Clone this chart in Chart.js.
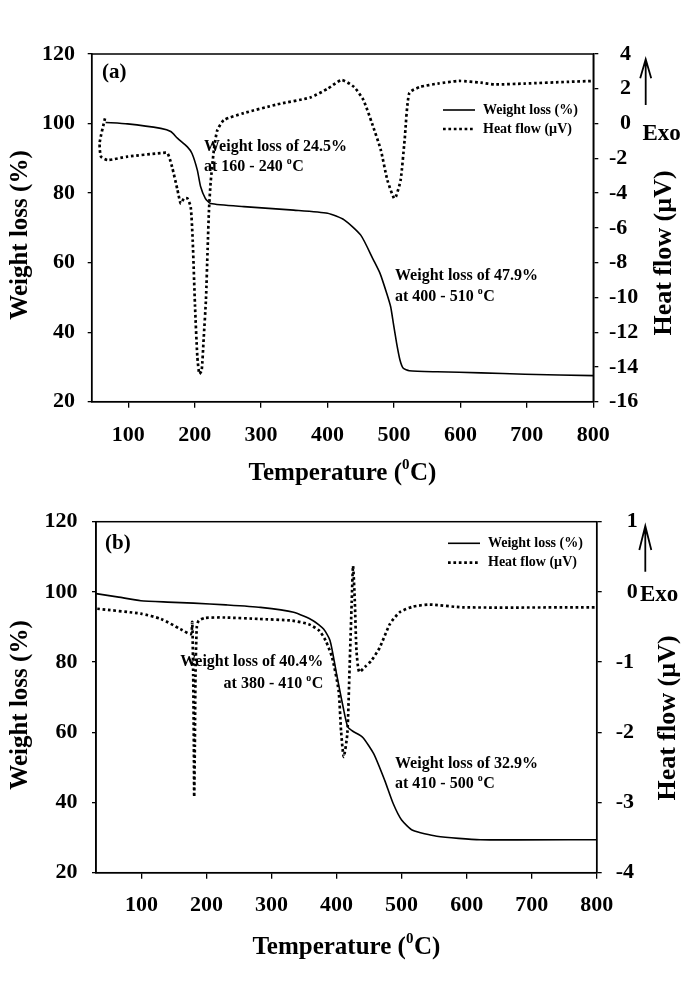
<!DOCTYPE html>
<html>
<head>
<meta charset="utf-8">
<script src="https://cdn.jsdelivr.net/npm/chart.js@4.4.1/dist/chart.umd.min.js"></script>
<style>
  html, body { margin: 0; padding: 0; background: #fff; }
  .panel { width: 685px; height: 491px; }
  canvas { display: block; }
</style>
</head>
<body>
<div class="panel"><canvas id="chartA" width="685" height="491"></canvas></div>
<div class="panel"><canvas id="chartB" width="685" height="491"></canvas></div>
<script>
// tick labels
const xTicks = [100, 200, 300, 400, 500, 600, 700, 800];
const weightTicks = [20, 40, 60, 80, 100, 120];
const heatTicksA = [-16, -14, -12, -10, -8, -6, -4, -2, 0, 2, 4];
const heatTicksB = [-4, -3, -2, -1, 0, 1];

// (a) weight loss
const tempWA = [66, 99, 149, 164, 174, 189, 196, 204, 209, 216, 224, 274, 349, 400, 425, 450, 469, 479, 489, 495, 499, 504, 509, 514, 523, 565, 631, 697, 800];
const wlA = [100.3, 99.9, 98.6, 97.7, 95.8, 93.3, 91.4, 86.6, 81.8, 78.5, 77.0, 76.1, 75.1, 74.2, 72.3, 67.9, 60.8, 56.9, 51.2, 47.3, 42.6, 36.8, 32.0, 29.6, 28.9, 28.6, 28.3, 27.9, 27.5];

// (a) heat flow
const tempHA = [65, 57, 59, 69, 99, 149, 159, 166, 174, 179, 184, 189, 194, 197, 200.5, 204, 207, 210.5, 213.5, 217, 219.5, 221.5, 224, 229, 234, 244, 274, 324, 374, 400, 421, 440, 454, 467, 480, 490, 500, 503, 510, 516, 523, 539, 566, 598, 631, 651, 697, 763, 800];
const hfA = [0.3, -1.1, -1.9, -2.1, -1.9, -1.7, -1.7, -2.5, -3.8, -4.6, -4.3, -4.3, -4.8, -6.7, -10.5, -13.4, -14.4, -14.2, -12.4, -10.1, -7.2, -5.0, -3.4, -1.5, -0.4, 0.2, 0.6, 1.1, 1.5, 2.0, 2.5, 2.1, 1.35, 0.0, -1.5, -3.25, -4.3, -4.2, -3.25, -0.95, 1.75, 2.1, 2.3, 2.45, 2.35, 2.25, 2.3, 2.4, 2.45];

// (b) weight loss
const tempWB = [30, 65, 99, 140, 180, 230, 283, 334, 364, 380, 390, 400, 410, 417, 425, 440, 457, 474, 487, 500, 517, 554, 621, 800];
const wlB = [99.5, 98.5, 97.5, 97.1, 96.8, 96.3, 95.6, 94.2, 91.8, 89.4, 86.1, 76.6, 67.2, 61.6, 60.3, 58.6, 53.9, 46.3, 39.7, 35.0, 32.1, 30.4, 29.4, 29.4];

// (b) heat flow
const tempHB = [32, 99, 130, 160, 176, 178, 179.5, 180.5, 181, 182, 183, 185, 188, 198, 229, 280, 332, 357, 373, 383, 393, 403, 407, 411, 416.5, 420, 423.3, 425.3, 428, 430.6, 434.7, 443.4, 453.4, 466.5, 481.8, 497, 517.5, 543, 594, 800];
const hfB = [-0.24, -0.31, -0.385, -0.53, -0.6, -0.43, -1.2, -2.2, -2.92, -2.2, -1.2, -0.5, -0.41, -0.37, -0.365, -0.385, -0.41, -0.46, -0.55, -0.69, -0.93, -1.4, -2.0, -2.35, -2.02, -1.07, -0.13, 0.37, -0.13, -0.84, -1.14, -1.07, -0.98, -0.79, -0.46, -0.29, -0.21, -0.18, -0.22, -0.22];

const FONT = '"Liberation Serif", "Times New Roman", serif';

function pts(xs, ys) {
  return xs.map((x, i) => ({ x: x, y: ys[i] }));
}

// text + small raised mark + tail, e.g. "at 160 - 240 " + "o" + "C"
function supText(ctx, x, y, before, sup, tail, size, supSize, rise, align) {
  ctx.font = 'bold ' + size + 'px ' + FONT;
  const w1 = ctx.measureText(before).width;
  const w3 = ctx.measureText(tail).width;
  ctx.font = 'bold ' + supSize + 'px ' + FONT;
  const w2 = ctx.measureText(sup).width;
  const total = w1 + w2 + w3 + 0.5;
  let x0 = x;
  if (align === 'right') x0 = x - total;
  if (align === 'center') x0 = x - total / 2;
  ctx.textAlign = 'left';
  ctx.font = 'bold ' + size + 'px ' + FONT;
  ctx.fillText(before, x0, y);
  ctx.font = 'bold ' + supSize + 'px ' + FONT;
  ctx.fillText(sup, x0 + w1, y - rise);
  ctx.font = 'bold ' + size + 'px ' + FONT;
  ctx.fillText(tail, x0 + w1 + w2 + 0.5, y);
}

const extras = {
  id: 'extras',
  afterDraw(chart, args, o) {
    const ctx = chart.ctx, a = chart.chartArea;
    ctx.save();
    ctx.strokeStyle = '#000';
    ctx.fillStyle = '#000';
    ctx.lineWidth = 1.5;
    ctx.strokeRect(a.left, a.top, a.right - a.left, a.bottom - a.top);

    ctx.textBaseline = 'alphabetic';
    ctx.textAlign = 'left';
    ctx.font = 'bold 21px ' + FONT;
    ctx.fillText(o.tag, o.tagX, o.tagY);

    o.notes.forEach(n => {
      if (n.deg) {
        supText(ctx, n.x, n.y, n.deg, 'o', 'C', 16, 10, 7, n.align);
      } else {
        ctx.font = 'bold 16px ' + FONT;
        ctx.textAlign = n.align || 'left';
        ctx.fillText(n.text, n.x, n.y);
      }
    });

    // x axis title
    supText(ctx, (a.left + a.right) / 2, o.xTitleY, 'Temperature (', '0', 'C)', 25, 15, 11, 'center');

    // vertical axis titles
    [[o.titleL, 'Weight loss (%)', 25], [o.titleR, 'Heat flow (\u00b5V)', 26]].forEach(t => {
      ctx.save();
      ctx.translate(t[0].x, t[0].y);
      ctx.rotate(-Math.PI / 2);
      ctx.font = 'bold ' + t[2] + 'px ' + FONT;
      ctx.textAlign = 'center';
      ctx.textBaseline = 'middle';
      ctx.fillText(t[1], 0, 0);
      ctx.restore();
    });

    // legend
    const lg = o.legend;
    chart.data.datasets.forEach((ds, i) => {
      const y = lg.y[i];
      ctx.save();
      ctx.lineWidth = ds.borderWidth;
      ctx.setLineDash(ds.borderDash || []);
      ctx.beginPath();
      ctx.moveTo(lg.x0, y);
      ctx.lineTo(lg.x1, y);
      ctx.stroke();
      ctx.restore();
      ctx.font = 'bold 14px ' + FONT;
      ctx.textAlign = 'left';
      ctx.textBaseline = 'middle';
      ctx.fillText(ds.label, lg.tx, y);
    });

    // Exo arrow
    const ar = o.arrow;
    ctx.lineWidth = 1.8;
    ctx.beginPath();
    ctx.moveTo(ar.x, ar.bottom);
    ctx.lineTo(ar.x, ar.top);
    ctx.moveTo(ar.x - ar.dx, ar.armY);
    ctx.lineTo(ar.x, ar.top);
    ctx.lineTo(ar.x + ar.dx, ar.armY);
    ctx.stroke();
    ctx.font = 'bold 23px ' + FONT;
    ctx.textAlign = 'left';
    ctx.textBaseline = 'alphabetic';
    ctx.fillText('Exo', o.exo.x, o.exo.y);
    ctx.restore();
  }
};

function makeChart(id, c) {
  const tickFont = { family: FONT, size: 22, weight: 'bold', lineHeight: 1.2 };
  new Chart(document.getElementById(id), {
    type: 'line',
    data: {
      datasets: [
        {
          label: 'Weight loss (%)',
          data: pts(c.tw, c.wl),
          yAxisID: 'y',
          borderColor: '#000',
          borderWidth: 1.6,
          pointRadius: 0,
          tension: 0.2,
          fill: false
        },
        {
          label: 'Heat flow (\u00b5V)',
          data: pts(c.th, c.hf),
          yAxisID: 'y2',
          borderColor: '#000',
          borderWidth: 2.7,
          borderDash: [2.7, 2.7],
          pointRadius: 0,
          tension: 0.2,
          fill: false
        }
      ]
    },
    options: {
      responsive: false,
      animation: false,
      devicePixelRatio: 1,
      events: [],
      layout: { padding: { top: c.top, left: 0, right: 0, bottom: 0 } },
      plugins: {
        legend: { display: false },
        tooltip: { enabled: false },
        extras: c.extras
      },
      scales: {
        x: {
          type: 'linear',
          min: c.xMin,
          max: 800,
          afterBuildTicks: s => { s.ticks = xTicks.map(v => ({ value: v })); },
          afterFit: s => { s.height = c.xH; },
          grid: { drawOnChartArea: false, drawTicks: true, tickLength: 6, color: '#000', lineWidth: 1.3 },
          border: { display: true, color: '#000', width: 1.5 },
          ticks: { color: '#000', font: tickFont, padding: c.xPad, maxRotation: 0, autoSkip: false }
        },
        y: {
          position: 'left',
          min: 20,
          max: 120,
          afterBuildTicks: s => { s.ticks = weightTicks.map(v => ({ value: v })); },
          afterFit: s => { s.width = c.leftW; },
          grid: { drawOnChartArea: false, drawTicks: true, tickLength: 4, color: '#000', lineWidth: 1.3 },
          border: { display: true, color: '#000', width: 1.5 },
          ticks: { color: '#000', font: tickFont, padding: c.yPad, autoSkip: false }
        },
        y2: {
          position: 'right',
          min: c.hMin,
          max: c.hMax,
          afterBuildTicks: s => { s.ticks = c.hTicks.map(v => ({ value: v })); },
          afterFit: s => { s.width = c.rightW; },
          grid: { drawOnChartArea: false, drawTicks: true, tickLength: 5, color: '#000', lineWidth: 1.3 },
          border: { display: true, color: '#000', width: 1.5 },
          ticks: {
            color: '#000', font: tickFont, padding: c.y2Pad, autoSkip: false, crossAlign: 'near',
            callback: v => (v < 0 ? String(v) : '\u2002' + v)
          }
        }
      }
    },
    plugins: [extras]
  });
}

makeChart('chartA', {
  tw: tempWA, wl: wlA, th: tempHA, hf: hfA,
  xMin: 45, hMin: -16, hMax: 4, hTicks: heatTicksA,
  top: 54, leftW: 91.7, rightW: 91.7, xH: 89.3,
  xPad: 14.6, yPad: 12.7, y2Pad: 10.7,
  extras: {
    tag: '(a)', tagX: 102, tagY: 77.5,
    xTitleY: 480,
    notes: [
      { x: 204, y: 151, text: 'Weight loss of 24.5%' },
      { x: 204, y: 171, deg: 'at 160 - 240 ' },
      { x: 395, y: 280, text: 'Weight loss of 47.9%' },
      { x: 395, y: 301, deg: 'at 400 - 510 ' }
    ],
    titleL: { x: 21, y: 235 },
    titleR: { x: 664, y: 253 },
    legend: { x0: 443, x1: 475, tx: 483, y: [110, 129] },
    arrow: { x: 645.7, top: 59.3, bottom: 105, armY: 78.3, dx: 5.5 },
    exo: { x: 642.5, y: 140 }
  }
});

makeChart('chartB', {
  tw: tempWB, wl: wlB, th: tempHB, hf: hfB,
  xMin: 30, hMin: -4, hMax: 1, hTicks: heatTicksB,
  top: 30.7, leftW: 96, rightW: 88.3, xH: 109.3,
  xPad: 13.6, yPad: 14.5, y2Pad: 14,
  extras: {
    tag: '(b)', tagX: 105, tagY: 58.3,
    xTitleY: 463,
    notes: [
      { x: 323.3, y: 175, text: 'Weight loss of 40.4%', align: 'right' },
      { x: 323.3, y: 197, deg: 'at 380 - 410 ', align: 'right' },
      { x: 395, y: 277, text: 'Weight loss of 32.9%' },
      { x: 395, y: 297, deg: 'at 410 - 500 ' }
    ],
    titleL: { x: 21, y: 214 },
    titleR: { x: 668, y: 227 },
    legend: { x0: 448, x1: 480, tx: 488, y: [52.3, 71.7] },
    arrow: { x: 645.3, top: 35, bottom: 80.7, armY: 59, dx: 6 },
    exo: { x: 640, y: 110 }
  }
});
</script>
</body>
</html>
